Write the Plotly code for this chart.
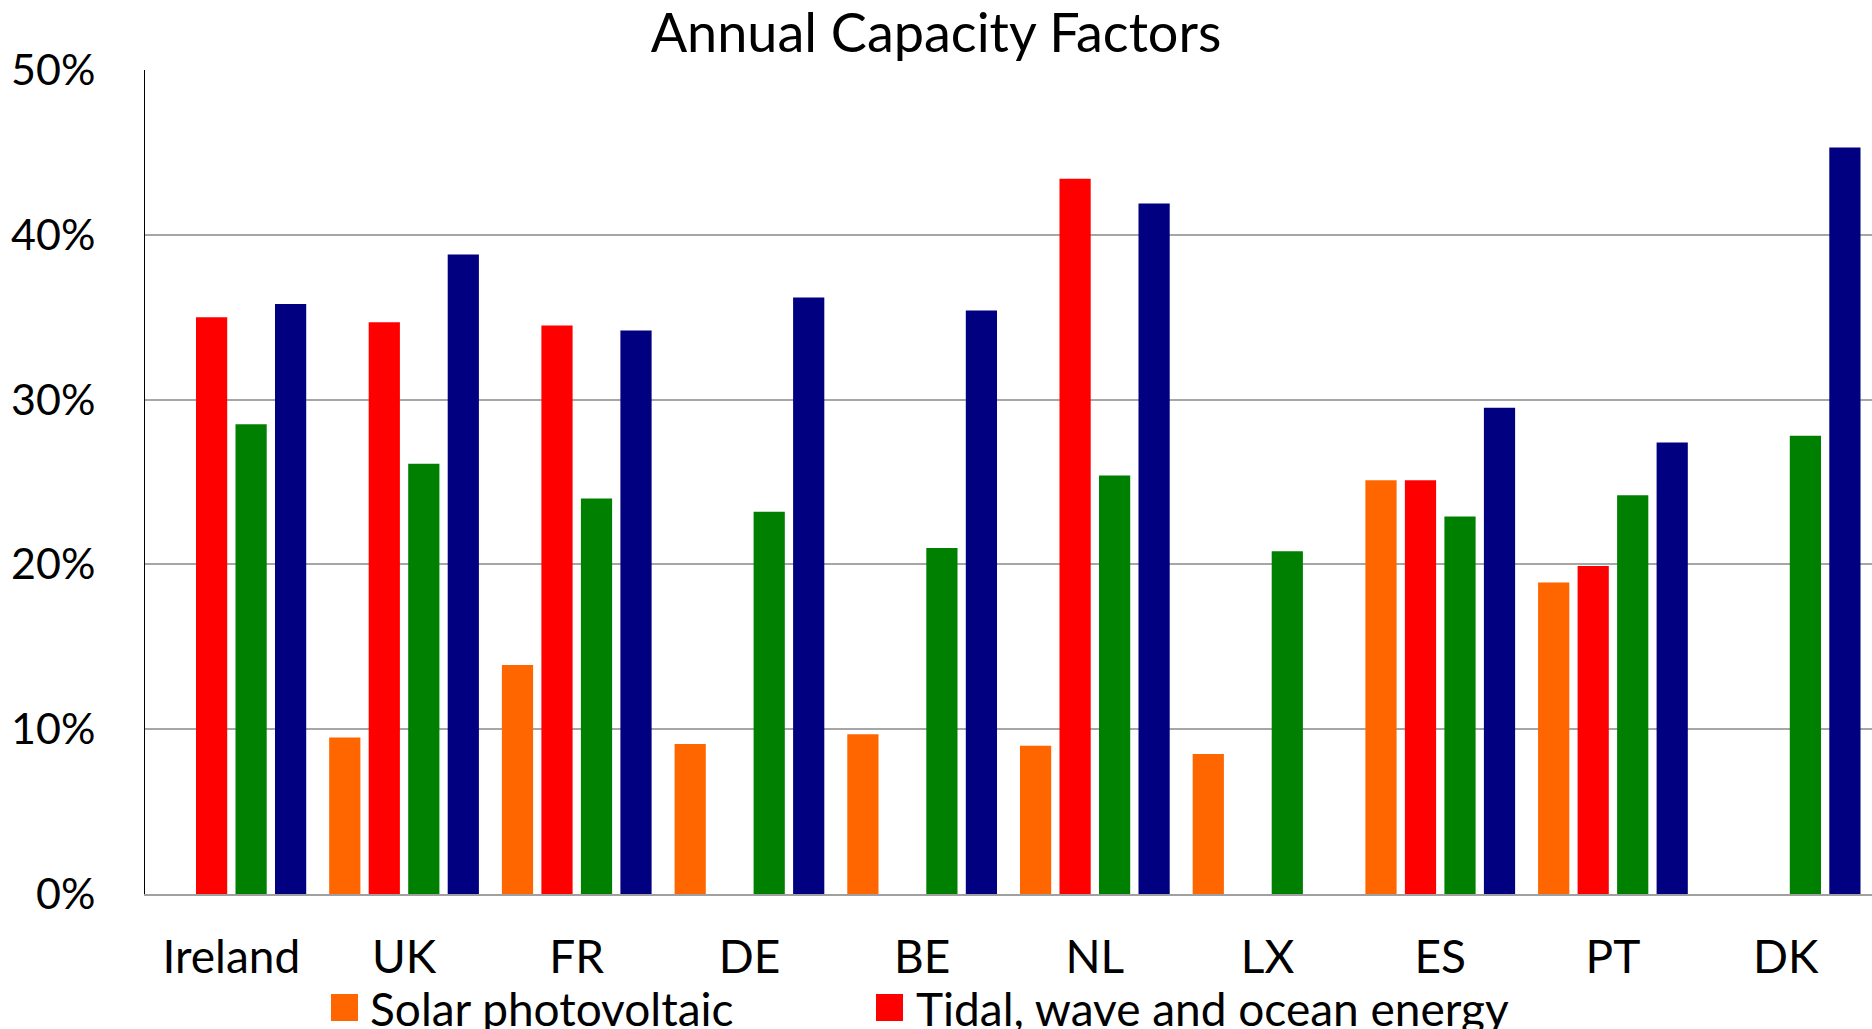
import plotly.graph_objects as go

# Countries along the x axis
countries = ["Ireland", "UK", "FR", "DE", "BE", "NL", "LX", "ES", "PT", "DK"]

# Annual capacity factors (%) per technology; None where no value exists
solar_pv = [None, 9.5, 13.9, 9.1, 9.7, 9.0, 8.5, 25.1, 18.9, None]
tidal_wave_ocean = [35.0, 34.7, 34.5, None, None, 43.4, None, 25.1, 19.9, None]
onshore_wind = [28.5, 26.1, 24.0, 23.2, 21.0, 25.4, 20.8, 22.9, 24.2, 27.8]
offshore_wind = [35.8, 38.8, 34.2, 36.2, 35.4, 41.9, None, 29.5, 27.4, 45.3]

series_names = ["Solar photovoltaic", "Tidal, wave and ocean energy",
                "Onshore wind", "Offshore wind"]
series_values = [solar_pv, tidal_wave_ocean, onshore_wind, offshore_wind]
series_colors = ["#FF6600", "#FF0000", "#008000", "#000080"]

y_ticks = [0, 10, 20, 30, 40, 50]
y_tick_labels = ["0%", "10%", "20%", "30%", "40%", "50%"]

FONT = "Lato"
W, H = 1872, 1029
ML, MR, MT, MB = 145, 0, 70, 135

fig = go.Figure()
for name, vals, col in zip(series_names, series_values, series_colors):
    fig.add_trace(go.Bar(
        x=countries, y=vals, name=name,
        marker=dict(color=col, line=dict(width=0)),
        showlegend=False,
    ))


def px_x(px):
    return (px - ML) / (W - ML - MR)


def px_y(py):
    return (H - MB - py) / (H - MT - MB)


# Legend row drawn below the category labels (first two technologies)
legend_items = [(0, 331, 368), (1, 876, 914)]
for idx, sq_left, text_left in legend_items:
    fig.add_shape(
        type="rect", xref="paper", yref="paper",
        x0=px_x(sq_left), x1=px_x(sq_left + 27),
        y0=px_y(1021), y1=px_y(994),
        fillcolor=series_colors[idx], line=dict(width=0),
    )
    fig.add_annotation(
        xref="paper", yref="paper", x=px_x(text_left), y=px_y(1008),
        xanchor="left", yanchor="middle", showarrow=False,
        text=series_names[idx],
        font=dict(family=FONT, size=46, color="black"),
    )

fig.update_layout(
    width=W, height=H,
    margin=dict(l=ML, r=MR, t=MT, b=MB, pad=0),
    paper_bgcolor="white", plot_bgcolor="white",
    barmode="group", bargap=0.085, bargroupgap=0.21,
    title=dict(
        text="Annual Capacity Factors",
        x=0.5, xref="container", xanchor="center",
        y=1 - 33 / H, yref="container", yanchor="middle",
        font=dict(family=FONT, size=54, color="black"),
    ),
    font=dict(family=FONT, color="black"),
)

fig.update_xaxes(
    showgrid=False, showline=True, linecolor="#A0A0A0", linewidth=2,
    ticks="", ticklabelstandoff=22,
    tickfont=dict(family=FONT, size=46, color="black"),
)
fig.update_yaxes(
    range=[0, 50], tickmode="array", tickvals=y_ticks, ticktext=y_tick_labels,
    showgrid=True, gridcolor="#A6A6A6", gridwidth=1.5,
    zeroline=False, showline=True, linecolor="black", linewidth=1,
    ticks="", ticklabelstandoff=40,
    tickfont=dict(family=FONT, size=43, color="black"),
)

fig.write_html("out.html")
